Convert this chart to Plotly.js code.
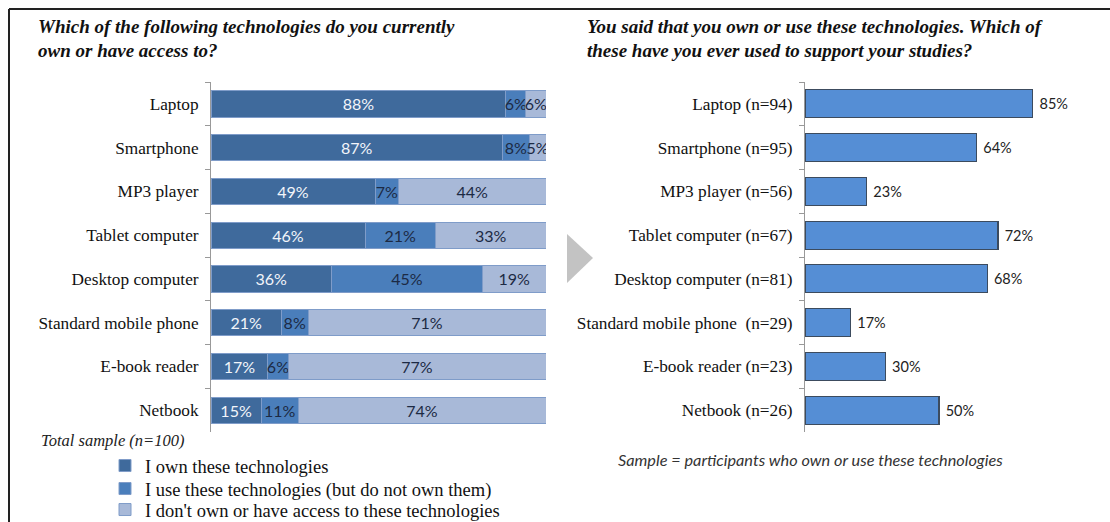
<!DOCTYPE html>
<html><head><meta charset="utf-8">
<script src="https://cdn.plot.ly/plotly-3.0.1.min.js"></script>
<style>html,body{margin:0;padding:0;background:#fff}#chart{width:1110px;height:522px}</style>
</head><body><div id="chart"></div><script>
// ---- data ----
const categories = ["Laptop","Smartphone","MP3 player","Tablet computer","Desktop computer","Standard mobile phone","E-book reader","Netbook"];
const ownValues = [88,87,49,46,36,21,17,15];
const useValues = [6,8,7,21,45,8,6,11];
const noAccessValues = [6,5,44,33,19,71,77,74];
const seriesNames = ["I own these technologies","I use these technologies (but do not own them)","I don't own or have access to these technologies"];
const studyCategories = ["Laptop (n=94)","Smartphone (n=95)","MP3 player (n=56)","Tablet computer (n=67)","Desktop computer (n=81)","Standard mobile phone\u00a0 (n=29)","E-book reader (n=23)","Netbook (n=26)"];
const studyValues = [85,64,23,72,68,17,30,50];

const W = 1110, H = 522;
const px = x => x / W;
const py = y => 1 - y / H;

const SERIF = "Liberation Serif, Times New Roman, serif";
const SANS = "Lato, Open Sans, sans-serif";

function seg(vals, name, fill, txtColor, legendId) {
  return {
    type: 'bar', orientation: 'h', x: vals, y: categories, name: name,
    xaxis: 'x', yaxis: 'y', width: 0.6, legend: legendId,
    marker: {color: fill, line: {color: '#7F9CC9', width: 1}},
    texttemplate: '%{x}%', textposition: 'inside', insidetextanchor: 'middle',
    textangle: 0, constraintext: 'none',
    textfont: {family: SANS, size: 16, color: txtColor},
    hoverinfo: 'skip'
  };
}

const traces = [
  seg(ownValues, seriesNames[0], '#3F6A9C', '#F2F5FA', 'legend'),
  seg(useValues, seriesNames[1], '#4A7EBB', '#1C2A44', 'legend2'),
  seg(noAccessValues, seriesNames[2], '#A8B9D8', '#1C2A44', 'legend3'),
  {
    type: 'bar', orientation: 'h', x: studyValues, y: studyCategories,
    xaxis: 'x2', yaxis: 'y2', width: 0.64, showlegend: false,
    marker: {color: '#558ED5', line: {color: '#3C4B5E', width: 1.2}},
    texttemplate: '\u00a0%{x}%', textposition: 'outside', cliponaxis: false,
    textangle: 0, textfont: {family: SANS, size: 14.5, color: '#222'},
    hoverinfo: 'skip'
  }
];

const yAxisCommon = {
  type: 'category', range: [7.5, -0.5], tickson: 'boundaries',
  ticks: 'outside', ticklen: 5, tickcolor: '#999', showline: true, linecolor: '#999',
  linewidth: 1, showgrid: false, zeroline: false, fixedrange: true,
  tickfont: {family: SERIF, size: 17.25, color: '#111'}, ticklabelstandoff: 8,
  domain: [py(432), py(82)]
};

function legendAt(yc) {
  return {
    x: px(105), y: py(yc), xanchor: 'left', yanchor: 'middle',
    orientation: 'v', bgcolor: 'rgba(0,0,0,0)', borderwidth: 0,
    font: {family: SERIF, size: 18.5, color: '#111'}, itemwidth: 30
  };
}

const layout = {
  width: W, height: H, autosize: false,
  margin: {l: 0, r: 0, t: 0, b: 0, pad: 0, autoexpand: false},
  paper_bgcolor: '#fff', plot_bgcolor: 'rgba(0,0,0,0)',
  barmode: 'stack',
  xaxis: {domain: [px(211), px(546)], range: [0, 100], visible: false, fixedrange: true},
  yaxis: Object.assign({}, yAxisCommon, {anchor: 'x'}),
  xaxis2: {domain: [px(805), px(1073)], range: [0, 100], visible: false, fixedrange: true},
  yaxis2: Object.assign({}, yAxisCommon, {anchor: 'x2'}),
  showlegend: true,
  legend: legendAt(466),
  legend2: legendAt(489),
  legend3: legendAt(510),
  shapes: [
    {type: 'line', xref: 'paper', yref: 'paper', x0: px(9), x1: px(1110), y0: py(9), y1: py(9), line: {color: '#222', width: 2}},
    {type: 'line', xref: 'paper', yref: 'paper', x0: px(9), x1: px(9), y0: py(9), y1: py(522), line: {color: '#222', width: 2}},
    {type: 'path', xref: 'paper', yref: 'paper',
     path: `M ${px(567)} ${py(234)} L ${px(593)} ${py(258)} L ${px(567)} ${py(283)} Z`,
     fillcolor: '#C3C3C3', line: {width: 0}}
  ],
  annotations: [
    {xref: 'paper', yref: 'paper', x: px(36), y: py(27), xanchor: 'left', yanchor: 'middle', showarrow: false,
     text: 'Which of the following technologies do you currently',
     font: {family: SERIF, size: 19, color: '#111', weight: 'bold', style: 'italic'}},
    {xref: 'paper', yref: 'paper', x: px(36), y: py(50), xanchor: 'left', yanchor: 'middle', showarrow: false,
     text: 'own or have access to?',
     font: {family: SERIF, size: 19, color: '#111', weight: 'bold', style: 'italic'}},
    {xref: 'paper', yref: 'paper', x: px(585), y: py(27), xanchor: 'left', yanchor: 'middle', showarrow: false,
     text: 'You said that you own or use these technologies. Which of',
     font: {family: SERIF, size: 19, color: '#111', weight: 'bold', style: 'italic'}},
    {xref: 'paper', yref: 'paper', x: px(585), y: py(50), xanchor: 'left', yanchor: 'middle', showarrow: false,
     text: 'these have you ever used to support your studies?',
     font: {family: SERIF, size: 19, color: '#111', weight: 'bold', style: 'italic'}},
    {xref: 'paper', yref: 'paper', x: px(39), y: py(440), xanchor: 'left', yanchor: 'middle', showarrow: false,
     text: 'Total sample (n=100)',
     font: {family: SERIF, size: 16.5, color: '#222', style: 'italic'}},
    {xref: 'paper', yref: 'paper', x: px(810), y: py(459), xanchor: 'center', yanchor: 'middle', showarrow: false,
     text: 'Sample = participants who own or use these technologies',
     font: {family: SANS, size: 16.3, color: '#333', style: 'italic'}}
  ]
};

Plotly.newPlot('chart', traces, layout, {displayModeBar: false, staticPlot: true});
</script></body></html>
